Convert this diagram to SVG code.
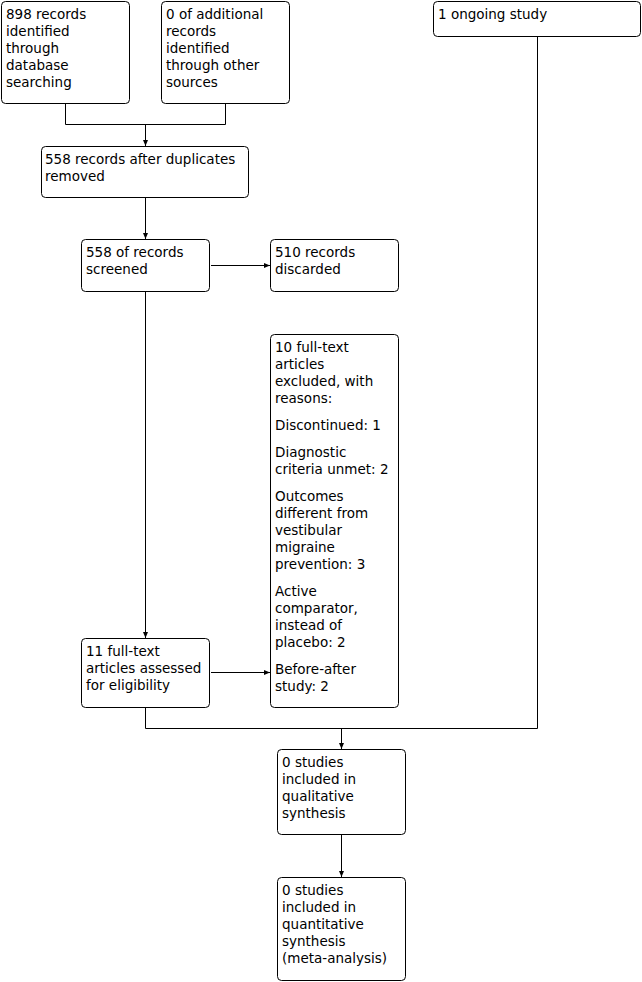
<svg xmlns="http://www.w3.org/2000/svg" width="642" height="982" viewBox="0 0 642 982">
<style>
.box{fill:#fff;stroke:#000;stroke-width:1}
.t{font-family:"DejaVu Sans","Liberation Sans",sans-serif;font-size:13.5px;fill:#000}
.c{fill:none;stroke:#000;stroke-width:1}
</style>
<defs>
<marker id="ah" markerUnits="userSpaceOnUse" markerWidth="7" markerHeight="6" refX="6" refY="2.5" orient="auto">
<path d="M0,0 L6,2.5 L0,5 z" fill="#000"/>
</marker>
</defs>
<rect width="642" height="982" fill="#fff"/>
<g id="connectors">
<path class="c" d="M65.5 103.5 V124.5 H225.5 V103.5"/>
<path class="c" d="M145.5 124.5 V146" marker-end="url(#ah)"/>
<path class="c" d="M145.5 197.5 V239" marker-end="url(#ah)"/>
<path class="c" d="M211 265.5 H270" marker-end="url(#ah)"/>
<path class="c" d="M145.5 291.5 V638" marker-end="url(#ah)"/>
<path class="c" d="M211 672.5 H270" marker-end="url(#ah)"/>
<path class="c" d="M145.5 707.5 V728.5 H537.5 V36.5"/>
<path class="c" d="M341.5 728.5 V749" marker-end="url(#ah)"/>
<path class="c" d="M341.5 834.5 V877" marker-end="url(#ah)"/>
</g>
<g id="n-db">
<rect class="box" x="1.5" y="1.5" width="128" height="102" rx="4"/>
<text class="t" x="6"><tspan x="6" y="19">898 records</tspan><tspan x="6" y="36">identified</tspan><tspan x="6" y="53">through</tspan><tspan x="6" y="70">database</tspan><tspan x="6" y="87">searching</tspan></text>
</g>
<g id="n-other">
<rect class="box" x="161.5" y="1.5" width="128" height="102" rx="4"/>
<text class="t"><tspan x="166" y="19">0 of additional</tspan><tspan x="166" y="36">records</tspan><tspan x="166" y="53">identified</tspan><tspan x="166" y="70">through other</tspan><tspan x="166" y="87">sources</tspan></text>
</g>
<g id="n-ongoing">
<rect class="box" x="433.5" y="1.5" width="207" height="35" rx="4"/>
<text class="t"><tspan x="438" y="19">1 ongoing study</tspan></text>
</g>
<g id="n-dup">
<rect class="box" x="41.5" y="146.5" width="207" height="51" rx="4"/>
<text class="t"><tspan x="45" y="164">558 records after duplicates</tspan><tspan x="45" y="181">removed</tspan></text>
</g>
<g id="n-screened">
<rect class="box" x="81.5" y="239.5" width="128" height="52" rx="4"/>
<text class="t"><tspan x="86" y="257">558 of records</tspan><tspan x="86" y="274">screened</tspan></text>
</g>
<g id="n-discarded">
<rect class="box" x="270.5" y="239.5" width="128" height="52" rx="4"/>
<text class="t"><tspan x="275" y="257">510 records</tspan><tspan x="275" y="274">discarded</tspan></text>
</g>
<g id="n-excluded">
<rect class="box" x="270.5" y="334.5" width="128" height="373" rx="4"/>
<text class="t"><tspan x="275" y="352">10 full-text</tspan><tspan x="275" y="369">articles</tspan><tspan x="275" y="386">excluded, with</tspan><tspan x="275" y="403">reasons:</tspan><tspan x="275" y="430">Discontinued: 1</tspan><tspan x="275" y="457">Diagnostic</tspan><tspan x="275" y="474">criteria unmet: 2</tspan><tspan x="275" y="501">Outcomes</tspan><tspan x="275" y="518">different from</tspan><tspan x="275" y="535">vestibular</tspan><tspan x="275" y="552">migraine</tspan><tspan x="275" y="569">prevention: 3</tspan><tspan x="275" y="596">Active</tspan><tspan x="275" y="613">comparator,</tspan><tspan x="275" y="630">instead of</tspan><tspan x="275" y="647">placebo: 2</tspan><tspan x="275" y="674">Before-after</tspan><tspan x="275" y="691">study: 2</tspan></text>
</g>
<g id="n-assessed">
<rect class="box" x="81.5" y="638.5" width="128" height="69" rx="4"/>
<text class="t"><tspan x="86" y="656">11 full-text</tspan><tspan x="86" y="673">articles assessed</tspan><tspan x="86" y="690">for eligibility</tspan></text>
</g>
<g id="n-qual">
<rect class="box" x="277.5" y="749.5" width="128" height="85" rx="4"/>
<text class="t"><tspan x="282" y="767">0 studies</tspan><tspan x="282" y="784">included in</tspan><tspan x="282" y="801">qualitative</tspan><tspan x="282" y="818">synthesis</tspan></text>
</g>
<g id="n-quant">
<rect class="box" x="277.5" y="877.5" width="128" height="103" rx="4"/>
<text class="t"><tspan x="282" y="895">0 studies</tspan><tspan x="282" y="912">included in</tspan><tspan x="282" y="929">quantitative</tspan><tspan x="282" y="946">synthesis</tspan><tspan x="282" y="963">(meta-analysis)</tspan></text>
</g>
</svg>
